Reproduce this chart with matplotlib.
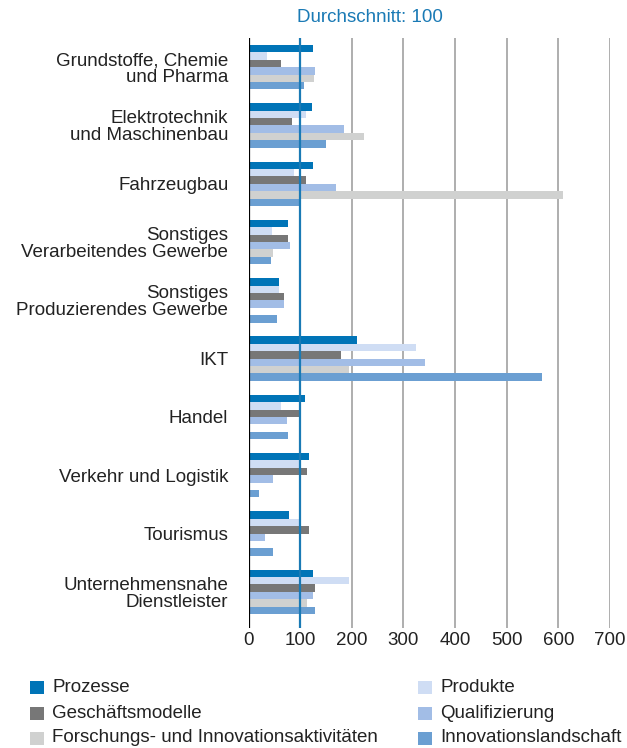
import matplotlib
matplotlib.use("Agg")
import matplotlib.pyplot as plt
from matplotlib.patches import Rectangle
import numpy as np

plt.rcParams['font.family'] = ['Liberation Sans', 'DejaVu Sans']

categories = [
    "Grundstoffe, Chemie\nund Pharma",
    "Elektrotechnik\nund Maschinenbau",
    "Fahrzeugbau",
    "Sonstiges\nVerarbeitendes Gewerbe",
    "Sonstiges\nProduzierendes Gewerbe",
    "IKT",
    "Handel",
    "Verkehr und Logistik",
    "Tourismus",
    "Unternehmensnahe\nDienstleister",
]

series_names = ["Prozesse", "Produkte", "Geschäftsmodelle", "Qualifizierung",
                "Forschungs- und Innovationsaktivitäten", "Innovationslandschaft"]

prozesse = [124, 122, 124, 76, 60, 211, 109, 117, 79, 125]
produkte = [36, 111, 88, 45, 60, 324, 63, 98, 98, 195]
geschaeftsmodelle = [63, 84, 112, 77, 68, 179, 98, 113, 117, 129]
qualifizierung = [128, 184, 169, 81, 68, 341, 74, 47, 31, 125]
forschung = [126, 224, 609, 47, 3, 195, 3, 3, 0, 113]
innovationslandschaft = [107, 150, 97, 44, 55, 569, 77, 20, 48, 129]

series = [prozesse, produkte, geschaeftsmodelle, qualifizierung, forschung, innovationslandschaft]
colors = ["#0074b7", "#cfddf4", "#777777", "#a2bde6", "#d0d1d0", "#6b9fd2"]

average = 100
title_text = "Durchschnitt: 100"
xticks = [0, 100, 200, 300, 400, 500, 600, 700]

FS = 13.5
W, H = 627, 748
fig = plt.figure(figsize=(W / 100, H / 100), dpi=100)
ax_left, ax_right = 248.5, 610
ax_top, ax_bot = 38, 628
ax = fig.add_axes([ax_left / W, 1 - ax_bot / H, (ax_right - ax_left) / W, (ax_bot - ax_top) / H])

n = len(categories)
y = np.arange(n)
h = 0.127
for i, (vals, c) in enumerate(zip(series, colors)):
    ax.barh(y + (i - 2.5) * h, vals, height=h, color=c, edgecolor='none', zorder=3)

ax.set_xlim(0, 700)
ax.set_ylim(9.62, -0.5)
ax.set_xticks(xticks)
ax.set_xticklabels([str(t) for t in xticks], fontsize=FS, color="#222222")
ax.tick_params(axis='x', length=0, pad=3)
ax.set_yticks(y)
ax.set_yticklabels(categories, fontsize=FS, color="#222222", linespacing=1.0)
ax.tick_params(axis='y', length=0, pad=14.5)
ax.xaxis.grid(True, color="#a8a8a8", linewidth=1.3, zorder=0)
ax.set_axisbelow(True)
for s in ax.spines.values():
    s.set_visible(False)
ax.axvline(0, color="black", linewidth=1.6, zorder=4)
ax.axvline(average, color="#1a7ab5", linewidth=1.6, zorder=5)

fig.text(297 / W, 1 - 18 / H, title_text, color="#1a7ab5", fontsize=FS, ha='left', va='center')

# legend
leg_pos = [(30, 687), (418, 687), (30, 713), (418, 713), (30, 738), (418, 738)]
for (lx, ly), name, c in zip(leg_pos, series_names, colors):
    fig.add_artist(Rectangle((lx / W, 1 - (ly + 6.5) / H), 14 / W, 13 / H,
                             transform=fig.transFigure, color=c, lw=0))
    fig.text((lx + 22) / W, 1 - ly / H, name, fontsize=FS, color="#222222", ha='left', va='center')

fig.savefig("out.png", dpi=100)
